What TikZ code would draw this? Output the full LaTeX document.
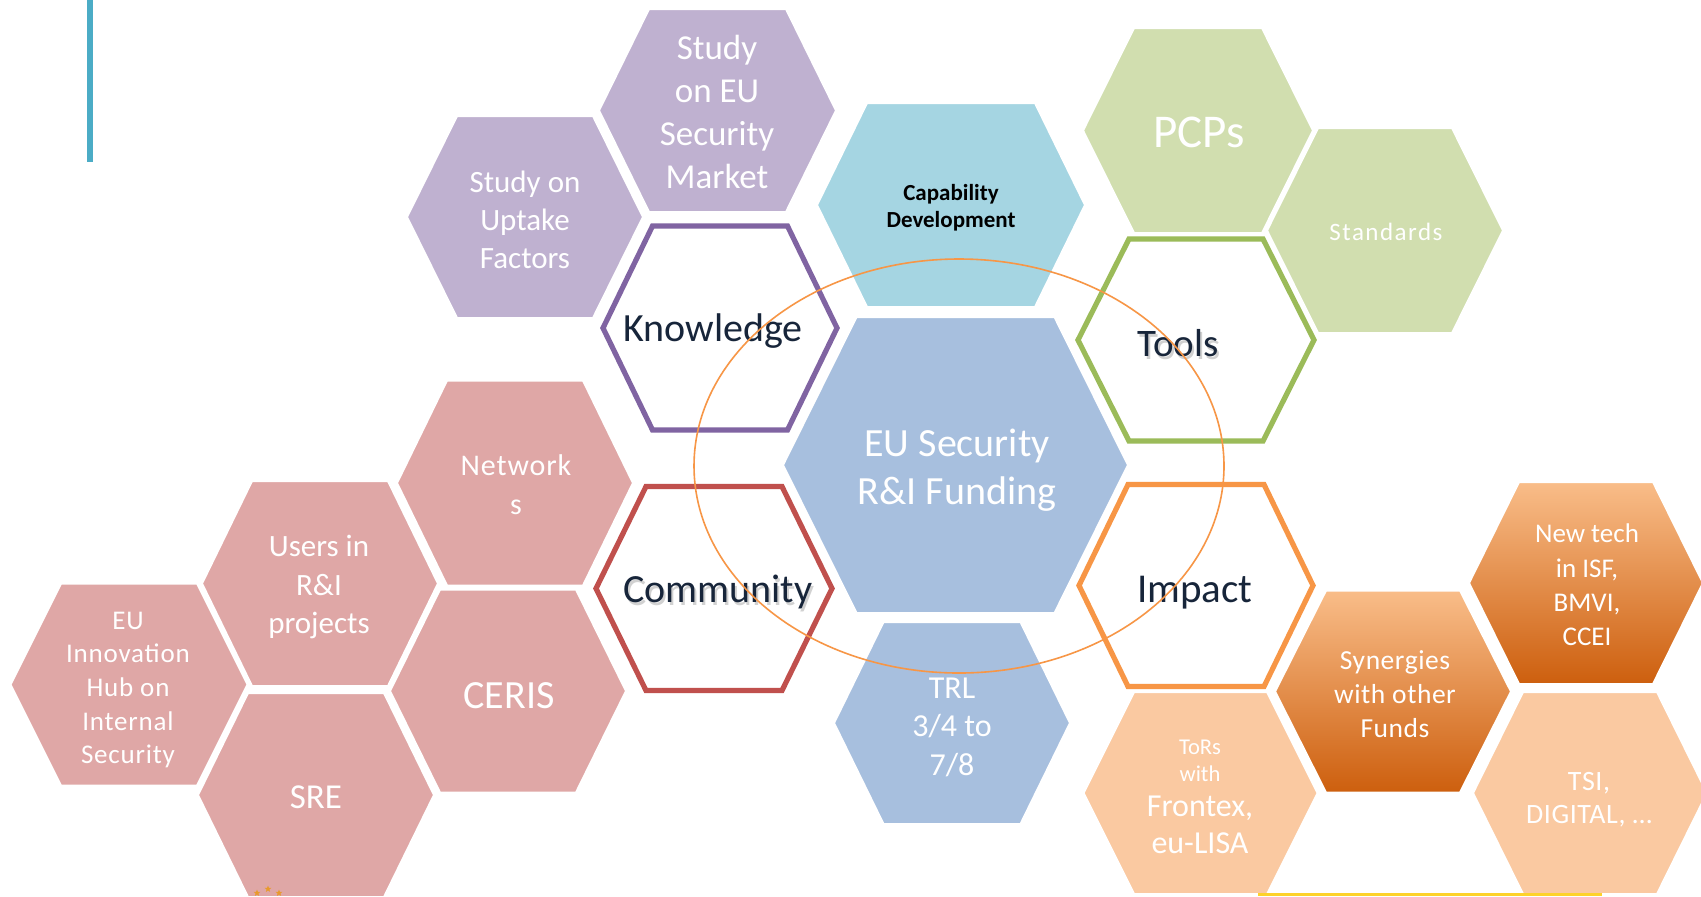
\documentclass[tikz,border=0pt]{standalone}
\usepackage{fontspec}
\setmainfont{Carlito}
\usetikzlibrary{shapes.geometric}
\definecolor{purpleL}{HTML}{BFB1D0}
\definecolor{capblue}{HTML}{A5D5E2}
\definecolor{blueF}{HTML}{A7BFDE}
\definecolor{greenL}{HTML}{D1DEAF}
\definecolor{pinkL}{HTML}{DFA7A6}
\definecolor{orangeL}{HTML}{FAC9A1}
\definecolor{purpleO}{HTML}{8064A2}
\definecolor{redO}{HTML}{C0504D}
\definecolor{greenO}{HTML}{9BBB59}
\definecolor{orangeO}{HTML}{F79646}
\definecolor{txtdark}{HTML}{17253A}
\definecolor{lineblue}{HTML}{4BACC6}
\definecolor{yellowL}{HTML}{FDD22B}
\definecolor{starOr}{HTML}{E89A2C}
\definecolor{gradTop}{HTML}{F9BD89}
\definecolor{gradMid}{HTML}{F49B55}
\definecolor{gradBot}{HTML}{CD5F0E}
% cx, cy, half width, half height, top half width, style
\newcommand{\hexshape}[6]{\path[#6] ({#1-#3},{#2}) -- ({#1-#5},{#2-#4}) -- ({#1+#5},{#2-#4}) -- ({#1+#3},{#2}) -- ({#1+#5},{#2+#4}) -- ({#1-#5},{#2+#4}) -- cycle;}
\newcommand{\fs}[2]{\fontsize{#1}{#2}\selectfont}
\tikzset{
  solidhex/.style={fill=#1, draw=white, line width=1pt},
  gradhex/.style={top color=gradTop, middle color=gradMid, bottom color=gradBot, draw=white, line width=1pt},
  ringhex/.style={fill=white, draw=#1, line width=2.6pt, line join=miter},
  wlabel/.style={text=white, align=center, inner sep=0pt},
  dlabel/.style={text=txtdark, align=center, inner sep=0pt},
  shadowlabel/.style={text=black, opacity=0.18, align=center, inner sep=0pt},
  tinystar/.style={star, star points=5, star point ratio=2.3, fill=starOr, minimum size=3.5pt, inner sep=0pt},
}
\begin{document}
\begin{tikzpicture}[x=0.5pt, y=-0.5pt]
\useasboundingbox (0,0) rectangle (1701,896);
\fill[white] (0,0) rectangle (1701,896);
% accent line
\fill[lineblue] (87,0) rectangle (93,162);
% purple group
\hexshape{525}{217}{118}{101}{68}{solidhex=purpleL}
\hexshape{717.5}{110.5}{118.5}{101.5}{68.5}{solidhex=purpleL}
% capability
\hexshape{951}{205}{134}{102}{84}{solidhex=capblue}
% central
\hexshape{955.5}{465}{172.5}{148}{99}{solidhex=blueF}
\hexshape{952}{723}{118}{101}{68.5}{solidhex=blueF}
% green group
\hexshape{1198}{130.5}{115}{102.5}{64}{solidhex=greenL}
\hexshape{1385}{230.5}{118}{102.5}{67}{solidhex=greenL}
% pink group
\hexshape{515}{483}{118}{102.5}{68}{solidhex=pinkL}
\hexshape{320}{583.5}{118}{102.5}{68}{solidhex=pinkL}
\hexshape{508}{691}{118}{101.5}{68}{solidhex=pinkL}
\hexshape{129}{684.5}{118.5}{101}{68}{solidhex=pinkL}
\hexshape{316}{795}{118}{102}{68}{solidhex=pinkL}
% orange group
\hexshape{1586}{583}{117}{101}{67}{gradhex}
\hexshape{1393}{691.5}{118}{101}{67}{gradhex}
\hexshape{1200.6}{793}{117}{101}{66.5}{solidhex=orangeL}
\hexshape{1590}{793}{117}{101}{67}{solidhex=orangeL}
% ring hexagons
\hexshape{720}{328}{117}{102}{67.5}{ringhex=purpleO}
\hexshape{714}{588.5}{118}{102}{68}{ringhex=redO}
\hexshape{1196}{340}{118}{101}{67}{ringhex=greenO}
\hexshape{1196}{585.5}{117}{101}{68}{ringhex=orangeO}
% bottom yellow bar
\fill[yellowL] (1258,893) rectangle (1602,896);
% tiny stars
\node[tinystar] (star1) at (257,893) {};
\node[tinystar] (star2) at (268,889) {};
\node[tinystar] (star3) at (279,893) {};
% labels
\node[wlabel, font=\fs{15.5}{19}] (uptake) at (525,220) {Study on\\Uptake\\Factors};
\node[wlabel, font=\fs{17.5}{21.5}] (market) at (717,112) {Study\\on EU\\Security\\Market};
\node[text=black, align=center, inner sep=0pt, font=\fs{11.5}{13.5}\bfseries] (capab) at (951,208) {Capability\\Development};
\node[dlabel, font=\fs{20}{24}] (knowledge) at (713,331.5) {Knowledge};
\node[shadowlabel, font=\fs{20}{24}] (communityshadow) at (720,595) {Community};
\node[dlabel, font=\fs{20}{24}] (community) at (718,592) {Community};
\node[shadowlabel, font=\fs{19.5}{24}] (toolsshadow) at (1180,346) {Tools};
\node[dlabel, font=\fs{19.5}{24}] (tools) at (1178,343) {Tools};
\node[dlabel, font=\fs{20.5}{24}] (impact) at (1195,592.5) {Impact};
\node[wlabel, font=\fs{20}{23.75}] (funding) at (957,470) {EU Security\\R\&I Funding};
\node[wlabel, font=\fs{16}{19.25}] (trl) at (952,727) {TRL\\3/4 to\\7/8};
\node[wlabel, font=\fs{23.5}{28}] (pcps) at (1199,132) {PCPs};
\node[wlabel, font=\fs{12.5}{15}\addfontfeatures{LetterSpace=6}] (standards) at (1386,232) {Standards};
\node[wlabel, font=\fs{15}{19.5}\addfontfeatures{LetterSpace=3}] (networks) at (516,485) {Network\\s};
\node[wlabel, font=\fs{15.5}{19.25}] (users) at (319,587) {Users in\\R\&I\\projects};
\node[wlabel, font=\fs{13.5}{16.85}\addfontfeatures{LetterSpace=3}] (euhub) at (128,690) {EU\\Innovation\\Hub on\\Internal\\Security};
\node[wlabel, font=\fs{20}{24}] (ceris) at (509,696) {CERIS};
\node[wlabel, font=\fs{17.5}{21}] (sre) at (316,797) {SRE};
\node[wlabel, font=\fs{13.5}{17.15}] (newtech) at (1587,585) {New tech\\in ISF,\\BMVI,\\CCEI};
\node[wlabel, font=\fs{13.75}{17}\addfontfeatures{LetterSpace=2}] (synergies) at (1395,694) {Synergies\\with other\\Funds};
\node[wlabel, font=\fs{16}{18.5}] (tors) at (1200,797) {{\fs{11.3}{13.5}ToRs}\\[-5pt]{\fs{11.3}{13.5}with}\\[-1pt]Frontex,\\eu-LISA};
\node[wlabel, font=\fs{14}{16.5}\addfontfeatures{LetterSpace=2}] (tsi) at (1589,800) {TSI,\\DIGITAL, …};
% orange ellipse
\draw[orangeO, line width=0.8pt] (959,466) ellipse [x radius=265, y radius=207];
\end{tikzpicture}
\end{document}
